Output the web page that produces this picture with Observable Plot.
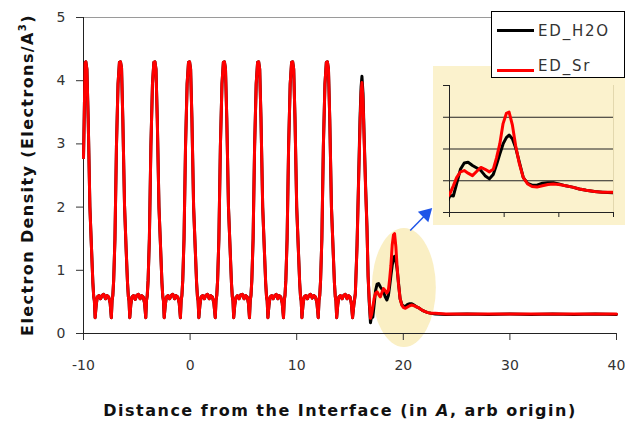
<!DOCTYPE html>
<html>
<head>
<meta charset="utf-8">
<script src="https://cdn.jsdelivr.net/npm/d3@7"></script>
<script src="https://cdn.jsdelivr.net/npm/@observablehq/plot@0.6"></script>
<style>
  body { margin: 0; background: #fff; }
  #wrap { position: relative; width: 625px; height: 423px; overflow: hidden; font-family: "DejaVu Sans", sans-serif; }
  #main { position: absolute; left: 0; top: 0; }
  #inset { position: absolute; left: 433px; top: 66px; width: 192px; height: 159px; background: #FBF2CD; }
  #legend { position: absolute; left: 491px; top: 11px; width: 134px; height: 67px; border: 1px solid #000; background: #fff; box-sizing: border-box; }
  .sw { position: absolute; left: 5px; width: 37px; height: 3px; }
  .lt { position: absolute; left: 46px; font-size: 15px; line-height: 15px; letter-spacing: 1.8px; color: #333; white-space: nowrap; }
</style>
</head>
<body>
<div id="wrap">
  <div id="main"></div>
  <div id="inset"></div>
  <div id="legend"></div>
</div>
<script>
// ---- data ----
const seriesNames = ["ED_H2O", "ED_Sr"];
const xTicks = [-10, 0, 10, 20, 30, 40];
const yTicks = [0, 1, 2, 3, 4, 5];
const insetXTicks = [17, 19, 21, 23];
const insetYTicks = [0, 0.5, 1, 1.5, 2];

// bulk (periodic) region, where both curves coincide
const bulkX = [
  -10.00, -9.93, -9.85, -9.78,
  -9.68, -9.56, -9.40, -9.25, -9.12, -9.04, -8.98, -8.91, -8.81, -8.70, -8.56, -8.40, -8.26, -8.10, -7.94, -7.80, -7.64, -7.50, -7.39, -7.32, -7.25, -7.17, -7.05, -6.91, -6.76, -6.63, -6.53,
  -6.43, -6.31, -6.15, -6.00, -5.87, -5.79, -5.73, -5.66, -5.56, -5.45, -5.31, -5.15, -5.01, -4.85, -4.69, -4.55, -4.40, -4.27, -4.16, -4.09, -4.02, -3.94, -3.82, -3.68, -3.53, -3.40, -3.30,
  -3.20, -3.08, -2.92, -2.77, -2.64, -2.56, -2.50, -2.43, -2.33, -2.22, -2.08, -1.92, -1.78, -1.62, -1.46, -1.32, -1.16, -1.02, -0.91, -0.84, -0.77, -0.69, -0.57, -0.43, -0.28, -0.15, -0.05,
  0.05, 0.17, 0.33, 0.48, 0.61, 0.69, 0.75, 0.82, 0.92, 1.03, 1.17, 1.33, 1.47, 1.63, 1.79, 1.93, 2.09, 2.23, 2.36, 2.43, 2.50, 2.58, 2.70, 2.84, 2.99, 3.12, 3.22,
  3.32, 3.44, 3.60, 3.75, 3.88, 3.96, 4.02, 4.09, 4.19, 4.30, 4.44, 4.60, 4.74, 4.90, 5.06, 5.20, 5.36, 5.47, 5.57, 5.64, 5.71, 5.79, 5.91, 6.05, 6.20, 6.33, 6.43,
  6.53, 6.65, 6.81, 6.96, 7.09, 7.17, 7.23, 7.30, 7.40, 7.51, 7.65, 7.80, 7.93, 8.08, 8.23, 8.36, 8.50, 8.64, 8.76, 8.83, 8.90, 8.98, 9.10, 9.24, 9.39, 9.52, 9.62,
  9.72, 9.84, 10.00, 10.15, 10.28, 10.36, 10.42, 10.49, 10.59, 10.70, 10.84, 11.00, 11.14, 11.30, 11.46, 11.60, 11.76, 11.90, 12.02, 12.09, 12.16, 12.24, 12.36, 12.50, 12.65, 12.78, 12.88,
  12.98, 13.10, 13.26, 13.41, 13.54, 13.62, 13.68, 13.75, 13.85, 13.96, 14.10, 14.26, 14.40, 14.56, 14.72, 14.86, 15.00, 15.12, 15.24
];
const bulkY = [
  2.78, 3.45, 4.28, 4.30,
  4.18, 3.40, 2.00, 1.35, 0.80, 0.58, 0.52, 0.25, 0.45, 0.58, 0.60, 0.55, 0.60, 0.62, 0.55, 0.60, 0.58, 0.48, 0.25, 0.52, 0.60, 0.84, 1.50, 2.95, 3.95, 4.29, 4.30,
  4.20, 3.38, 2.02, 1.33, 0.80, 0.58, 0.52, 0.25, 0.46, 0.58, 0.60, 0.54, 0.60, 0.62, 0.55, 0.60, 0.58, 0.48, 0.25, 0.52, 0.60, 0.84, 1.50, 2.95, 3.95, 4.29, 4.30,
  4.18, 3.40, 2.00, 1.36, 0.80, 0.58, 0.52, 0.25, 0.45, 0.58, 0.60, 0.55, 0.60, 0.62, 0.55, 0.60, 0.58, 0.48, 0.25, 0.52, 0.60, 0.84, 1.50, 2.95, 3.95, 4.29, 4.30,
  4.18, 3.40, 2.00, 1.35, 0.80, 0.58, 0.52, 0.25, 0.45, 0.58, 0.60, 0.55, 0.60, 0.62, 0.55, 0.60, 0.58, 0.48, 0.25, 0.52, 0.60, 0.84, 1.50, 2.95, 3.95, 4.29, 4.30,
  4.19, 3.41, 2.00, 1.35, 0.80, 0.58, 0.52, 0.25, 0.45, 0.57, 0.60, 0.55, 0.61, 0.62, 0.55, 0.60, 0.58, 0.48, 0.25, 0.52, 0.60, 0.84, 1.50, 2.95, 3.95, 4.29, 4.30,
  4.18, 3.40, 2.00, 1.35, 0.80, 0.58, 0.52, 0.25, 0.45, 0.58, 0.60, 0.55, 0.60, 0.62, 0.55, 0.60, 0.58, 0.48, 0.25, 0.52, 0.60, 0.84, 1.50, 2.95, 3.95, 4.29, 4.30,
  4.18, 3.40, 2.00, 1.35, 0.80, 0.58, 0.52, 0.25, 0.45, 0.58, 0.60, 0.55, 0.60, 0.62, 0.56, 0.60, 0.58, 0.48, 0.25, 0.52, 0.60, 0.84, 1.50, 2.95, 3.95, 4.29, 4.30,
  4.18, 3.40, 2.00, 1.35, 0.80, 0.58, 0.52, 0.25, 0.45, 0.58, 0.60, 0.55, 0.60, 0.62, 0.55, 0.60, 0.58, 0.48, 0.25
];

// interface region, where the two curves differ
const interfaceX = [
  15.36, 15.50, 15.66, 15.80, 15.94, 16.04, 16.12, 16.22, 16.34, 16.46,
  16.59, 16.70, 16.80, 16.92, 17.02, 17.14, 17.26, 17.40, 17.54, 17.68,
  17.84, 18.00, 18.15, 18.30, 18.46, 18.60, 18.72, 18.84, 18.96, 19.08,
  19.18, 19.30, 19.42, 19.55, 19.70, 19.86, 20.02, 20.20, 20.40, 20.60,
  20.80, 21.00, 21.25, 21.50, 21.75, 22.00, 22.30, 22.60, 23.00, 24,
  26, 28, 30, 32, 34, 36, 38, 40
];
const edSr = [
  0.45, 0.63, 1.37, 2.35, 3.30, 3.80, 3.97, 3.70, 3.00, 2.30,
  1.68, 0.90, 0.55, 0.24, 0.30, 0.42, 0.55, 0.64, 0.66, 0.62,
  0.58, 0.65, 0.71, 0.68, 0.64, 0.68, 0.86, 1.08, 1.40, 1.56,
  1.58, 1.38, 1.05, 0.78, 0.55, 0.45, 0.41, 0.40, 0.42, 0.44,
  0.45, 0.44, 0.42, 0.40, 0.37, 0.35, 0.33, 0.32, 0.32, 0.31,
  0.31, 0.31, 0.31, 0.31, 0.31, 0.31, 0.31, 0.31
];
const edH2O = [
  0.45, 0.63, 1.40, 2.40, 3.40, 3.90, 4.07, 3.80, 3.05, 2.35,
  1.70, 0.90, 0.50, 0.17, 0.27, 0.26, 0.45, 0.68, 0.78, 0.79,
  0.74, 0.70, 0.66, 0.58, 0.53, 0.60, 0.75, 0.92, 1.08, 1.18,
  1.22, 1.16, 1.02, 0.80, 0.55, 0.46, 0.43, 0.43, 0.46, 0.47,
  0.47, 0.45, 0.42, 0.40, 0.37, 0.35, 0.33, 0.32, 0.31, 0.30,
  0.31, 0.30, 0.31, 0.30, 0.31, 0.30, 0.31, 0.30
];

// annotations (data coordinates)
const highlight = {cx: 20.1, cy: 0.72, rx: 3.0, ry: 0.94};
const arrowLine = [{x1: 20.65, y1: 1.63, x2: 22.1, y2: 1.88}];
const arrowHead = [{x: 22.14, y: 1.89}];

// ---- build tables ----
const bulk = bulkX.map((x, i) => ({x, y: bulkY[i]}));
const rowsH2O = bulk.concat(interfaceX.map((x, i) => ({x, y: edH2O[i]})));
const rowsSr = bulk.concat(interfaceX.map((x, i) => ({x, y: edSr[i]})));

const main = Plot.plot({
  width: 625, height: 423,
  marginLeft: 83, marginRight: 9, marginTop: 17, marginBottom: 90,
  style: {fontFamily: "DejaVu Sans, sans-serif", fontSize: "14px", color: "#333", background: "transparent"},
  x: {domain: [-10, 40], ticks: xTicks, tickSize: 7, tickPadding: 20, label: null, tickFormat: d => String(d)},
  y: {domain: [0, 5], ticks: yTicks, tickSize: 7, tickPadding: 11, label: null, tickFormat: d => String(d)},
  marks: [
    Plot.ruleY([5], {stroke: "#9a9a9a", strokeWidth: 1}),
    Plot.ruleY([0], {stroke: "#222"}),
    Plot.ruleX([-10], {stroke: "#222"}),
    Plot.line(rowsH2O, {x: "x", y: "y", stroke: "#000", strokeWidth: 3}),
    Plot.line(rowsSr, {x: "x", y: "y", stroke: "#ff0000", strokeWidth: 3}),
    Plot.link(arrowLine, {x1: "x1", y1: "y1", x2: "x2", y2: "y2", stroke: "#1F55E8", strokeWidth: 1.5}),
    Plot.dot(arrowHead, {x: "x", y: "y", symbol: "triangle", r: 5.5, rotate: 45, fill: "#1F55E8", stroke: "none"})
  ]
});
document.getElementById("main").appendChild(main);

const sx = main.scale("x"), sy = main.scale("y");
const svg = d3.select(main);
svg.insert("ellipse", ":first-child")
  .attr("cx", sx.apply(highlight.cx))
  .attr("cy", sy.apply(highlight.cy))
  .attr("rx", sx.apply(highlight.cx + highlight.rx) - sx.apply(highlight.cx))
  .attr("ry", sy.apply(highlight.cy) - sy.apply(highlight.cy + highlight.ry))
  .attr("fill", "#FAEFC4");

const xt = svg.append("text")
  .attr("x", 340).attr("y", 416)
  .attr("text-anchor", "middle")
  .attr("font-family", "DejaVu Sans, sans-serif")
  .attr("font-weight", "bold").attr("font-size", 16)
  .attr("letter-spacing", "1.5px").attr("fill", "#111");
xt.append("tspan").text("Distance from the Interface (in ");
xt.append("tspan").attr("font-style", "italic").text("A");
xt.append("tspan").text(", arb origin)");

const yt = svg.append("text")
  .attr("transform", "translate(33,175) rotate(-90)")
  .attr("text-anchor", "middle")
  .attr("font-family", "DejaVu Sans, sans-serif")
  .attr("font-weight", "bold").attr("font-size", 16)
  .attr("letter-spacing", "1.4px").attr("fill", "#111");
yt.append("tspan").text("Electron Density (Electrons/A");
yt.append("tspan").attr("dy", -7).attr("font-size", 10).text("3");
yt.append("tspan").attr("dy", 7).text(")");

// ---- inset ----
const inset = Plot.plot({
  width: 192, height: 159,
  marginLeft: 16, marginRight: 12, marginTop: 19, marginBottom: 13,
  style: {background: "transparent", fontSize: "10px", color: "#222"},
  x: {domain: [17, 23], ticks: insetXTicks, tickSize: 5, tickFormat: () => "", label: null},
  y: {domain: [0, 2], ticks: insetYTicks, tickSize: 6, tickFormat: () => "", label: null},
  marks: [
    Plot.ruleX([23], {stroke: "#e3d8ae"}),
    Plot.ruleY([0.5, 1, 1.5], {stroke: "#222"}),
    Plot.ruleX([17], {stroke: "#222"}),
    Plot.ruleY([0], {stroke: "#222"}),
    Plot.line(rowsH2O, {x: "x", y: "y", stroke: "#000", strokeWidth: 3, clip: true}),
    Plot.line(rowsSr, {x: "x", y: "y", stroke: "#ff0000", strokeWidth: 3, clip: true})
  ]
});
document.getElementById("inset").appendChild(inset);

// ---- legend ----
const legendColors = ["#000", "#ff0000"];
const lg = document.getElementById("legend");
seriesNames.forEach((name, i) => {
  const sw = document.createElement("div");
  sw.className = "sw";
  sw.style.background = legendColors[i];
  sw.style.top = (i === 0 ? 17 : 57) + "px";
  lg.appendChild(sw);
  const t = document.createElement("div");
  t.className = "lt";
  t.style.top = (i === 0 ? 12 : 47) + "px";
  t.textContent = name;
  lg.appendChild(t);
});
</script>
</body>
</html>
